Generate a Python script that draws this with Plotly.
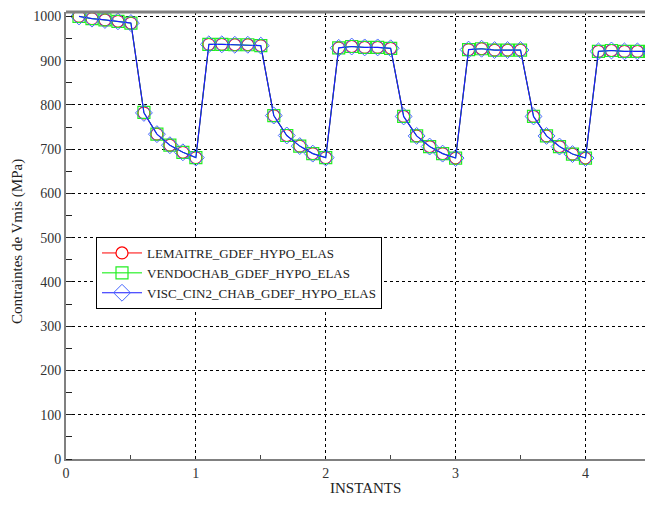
import plotly.graph_objects as go

instants = [0.1, 0.2, 0.3, 0.4, 0.5, 0.6, 0.7, 0.8, 0.9, 1.0,
            1.1, 1.2, 1.3, 1.4, 1.5, 1.6, 1.7, 1.8, 1.9, 2.0,
            2.1, 2.2, 2.3, 2.4, 2.5, 2.6, 2.7, 2.8, 2.9, 3.0,
            3.1, 3.2, 3.3, 3.4, 3.5, 3.6, 3.7, 3.8, 3.9, 4.0,
            4.1, 4.2, 4.3, 4.4, 4.5]

lemaitre = [1000, 995, 992, 989, 985, 782, 734, 709, 693, 681,
            937, 937, 936, 936, 934, 776, 731, 707, 690, 681,
            929, 932, 930, 930, 928, 774, 730, 706, 690, 680,
            925, 927, 924, 924, 924, 774, 730, 706, 689, 680,
            921, 923, 921, 921, 921]
vendochab = [1000, 995, 992, 989, 985, 783, 734, 709, 693, 681,
             937, 937, 936, 936, 934, 776, 731, 707, 690, 681,
             929, 932, 930, 930, 928, 774, 730, 706, 690, 680,
             925, 927, 924, 924, 924, 774, 730, 706, 689, 680,
             921, 923, 921, 921, 921]
visc_cin2 = [1000, 995, 992, 989, 985, 782, 734, 709, 693, 681,
             937, 937, 936, 936, 934, 776, 731, 707, 690, 681,
             929, 932, 930, 930, 928, 774, 730, 706, 690, 680,
             925, 927, 924, 924, 924, 774, 730, 706, 689, 680,
             921, 923, 921, 921, 921]

names = ["LEMAITRE_GDEF_HYPO_ELAS", "VENDOCHAB_GDEF_HYPO_ELAS", "VISC_CIN2_CHAB_GDEF_HYPO_ELAS"]
y_ticks = list(range(0, 1001, 100))
x_ticks = [0, 1, 2, 3, 4]
x_title = "INSTANTS"
y_title = "Contraintes de Vmis (MPa)"

font_family = "Liberation Serif"
txt = "#222222"

# page body has an 8px default margin: figure drawn from (8, 8)
W, H = 645, 509
L, T, B = 58, 4, 58
PW, PH = W - L, H - T - B   # plot area in px

fig = go.Figure()
fig.add_trace(go.Scatter(
    x=instants, y=lemaitre, name=names[0], mode="lines+markers",
    line=dict(color="#ff0000", width=1),
    marker=dict(symbol="circle", size=12, color="white",
                line=dict(color="#ff0000", width=1.2))))
fig.add_trace(go.Scatter(
    x=instants, y=vendochab, name=names[1], mode="lines+markers",
    line=dict(color="#00ee00", width=1),
    marker=dict(symbol="square", size=12, color="rgba(255,255,255,0)",
                line=dict(color="#22ee22", width=1.2))))
fig.add_trace(go.Scatter(
    x=instants, y=visc_cin2, name=names[2], mode="lines+markers",
    line=dict(color="#1a1aff", width=1.2),
    marker=dict(symbol="diamond", size=13, color="rgba(255,255,255,0)",
                line=dict(color="#4466ff", width=1))))

fig.update_layout(
    width=W, height=H,
    margin=dict(l=L, r=0, t=T, b=B, pad=0),
    paper_bgcolor="white", plot_bgcolor="white",
    font=dict(family=font_family, size=13, color=txt),
    showlegend=True,
    legend=dict(x=(96 - 66) / PW, y=(459 - 237) / PH, xanchor="left", yanchor="top",
                bgcolor="white", bordercolor="#000000", borderwidth=1,
                font=dict(family=font_family, size=13, color=txt),
                tracegroupgap=0, itemwidth=40),
    xaxis=dict(
        range=[0, 4.52], tickvals=x_ticks, ticks="", showline=True,
        linecolor="#808080", linewidth=2, automargin=False,
        showgrid=True, gridcolor="#000000", gridwidth=1, griddash="dot",
        zeroline=False,
        minor=dict(tickvals=[0.5, 1.5, 2.5, 3.5, 4.5], ticks="inside", ticklen=4,
                   tickcolor="#444444", showgrid=False),
        tickfont=dict(family=font_family, size=14, color="#333333"),
    ),
    yaxis=dict(
        range=[0, 1010], tickvals=y_ticks, ticks="", showline=True,
        linecolor="#808080", linewidth=2, automargin=False,
        showgrid=True, gridcolor="#000000", gridwidth=1, griddash="dot",
        zeroline=False,
        minor=dict(dtick=50, ticks="inside", ticklen=6, tickcolor="#222222", showgrid=False),
        tickfont=dict(family=font_family, size=14, color="#333333"),
    ),
    shapes=[dict(type="line", xref="paper", yref="paper", x0=0, x1=1, y0=1, y1=1,
                 line=dict(color="#808080", width=3))],
    annotations=[
        dict(text=x_title, xref="paper", yref="paper", x=(365 - 66) / PW, y=-29 / PH,
             xanchor="center", yanchor="middle", showarrow=False,
             font=dict(family=font_family, size=15, color=txt)),
        dict(text=y_title, xref="paper", yref="paper", x=-49 / PW, y=(459 - 242) / PH,
             xanchor="center", yanchor="middle", showarrow=False, textangle=-90,
             font=dict(family=font_family, size=15, color=txt)),
    ],
)

fig.write_html("out.html")
